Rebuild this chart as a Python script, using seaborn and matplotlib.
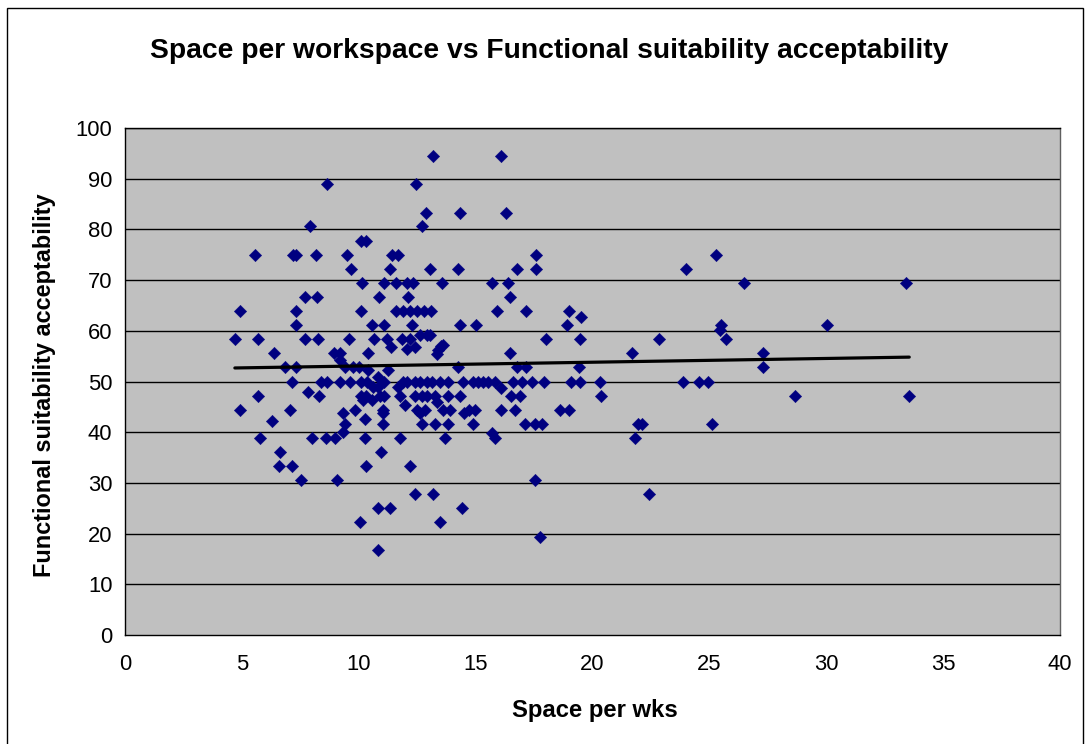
import matplotlib
matplotlib.use("Agg")
import matplotlib.pyplot as plt
import seaborn as sns
import pandas as pd
from matplotlib.patches import Rectangle

# Space per workstation (x) and functional suitability acceptability score (y)
space_per_wks = [
    13.16, 16.09,
    8.65, 12.45,
    12.88, 14.32, 16.3,
    7.9, 12.7,
    10.1, 10.3,
    5.55, 7.2, 7.3, 8.15, 9.5, 11.41, 11.7, 17.6, 25.3,
    9.67, 11.34, 13.03, 14.25, 16.76, 17.6, 24.0,
    10.12, 11.1, 11.58, 12.05, 12.33, 13.56, 15.7, 16.4, 26.5, 33.4,
    7.7, 8.23, 10.88, 12.12, 16.47,
    4.9, 7.3, 10.1, 11.6, 11.9, 12.2, 12.5, 12.8, 13.1, 15.9, 17.15, 19.0,
    19.5,
    7.3, 10.58, 11.1, 12.26, 14.33, 15.0, 18.9, 25.5, 30.05,
    25.45,
    12.6, 12.9, 13.05,
    4.7, 5.7, 7.7, 8.24, 9.6, 10.65, 11.2, 11.84, 12.19, 18.0, 19.45, 22.86, 25.7,
    11.4, 12.4, 13.5, 13.6,
    12.05, 13.4,
    6.39, 8.95, 9.2, 10.4, 13.33, 16.47, 21.7, 27.3,
    9.2,
    6.85, 7.3, 9.4, 9.77, 10.0, 14.26, 16.76, 17.15, 19.43, 27.3,
    10.4, 11.25,
    7.13, 8.4, 8.63, 9.2, 9.63, 10.1, 10.34, 11.06, 11.9, 12.05, 12.4, 12.6,
    12.9, 13.12, 13.48, 13.83, 14.47, 14.9, 15.11, 15.33, 15.54, 15.83, 16.6,
    16.97, 17.4, 17.93, 19.1, 19.47, 20.3, 23.86, 24.56, 24.94,
    10.84, 16.1, 11.7, 10.6, 10.84,
    5.7, 7.84, 8.29, 10.1, 10.3, 10.9, 11.1, 11.76, 12.4, 12.7, 12.9, 13.26,
    13.8, 14.33, 16.5, 16.9, 20.35, 28.66, 33.55,
    10.2, 10.55, 13.33,
    11.98,
    4.92, 7.06, 9.84, 11.05, 12.48, 12.83, 13.6, 13.9, 14.7, 14.97, 16.1,
    16.68, 18.6, 19.0,
    9.34, 11.05, 12.6, 14.5,
    10.27, 6.3,
    9.41, 11.05, 12.7, 13.26, 13.83, 14.9, 17.1, 17.54, 17.83, 21.96, 22.1, 25.1,
    9.34, 15.7,
    5.78, 7.99, 8.6, 8.98, 10.27, 11.76, 13.7, 15.83, 21.8,
    6.63, 10.95,
    6.6, 7.13, 10.3, 12.19,
    7.54, 9.06, 17.53,
    12.4, 13.18, 22.4,
    10.81, 11.34, 14.4,
    10.05, 13.47,
    17.75,
    10.81,
]

suitability = [
    94.4, 94.4,
    88.9, 88.9,
    83.3, 83.3, 83.3,
    80.6, 80.6,
    77.8, 77.8,
    75.0, 75.0, 75.0, 75.0, 75.0, 75.0, 75.0, 75.0, 75.0,
    72.2, 72.2, 72.2, 72.2, 72.2, 72.2, 72.2,
    69.4, 69.4, 69.4, 69.4, 69.4, 69.4, 69.4, 69.4, 69.4, 69.4,
    66.7, 66.7, 66.7, 66.7, 66.7,
    63.9, 63.9, 63.9, 63.9, 63.9, 63.9, 63.9, 63.9, 63.9, 63.9, 63.9, 63.9,
    62.7,
    61.1, 61.1, 61.1, 61.1, 61.1, 61.1, 61.1, 61.1, 61.1,
    60.2,
    59.2, 59.2, 59.2,
    58.3, 58.3, 58.3, 58.3, 58.3, 58.3, 58.3, 58.3, 58.3, 58.3, 58.3, 58.3, 58.3,
    56.9, 56.9, 57.0, 57.2,
    56.5, 56.3,
    55.6, 55.6, 55.6, 55.6, 55.4, 55.6, 55.6, 55.6,
    54.2,
    52.8, 52.8, 52.8, 52.8, 52.8, 52.8, 52.8, 52.8, 52.8, 52.8,
    52.3, 52.3,
    50.0, 50.0, 50.0, 50.0, 50.0, 50.0, 50.0, 50.0, 50.0, 50.0, 50.0, 50.0,
    50.0, 50.0, 50.0, 50.0, 50.0, 50.0, 50.0, 50.0, 50.0, 50.0, 50.0,
    50.0, 50.0, 50.0, 50.0, 50.0, 50.0, 50.0, 50.0, 50.0,
    50.9, 48.7, 48.9, 49.0, 49.0,
    47.2, 48.0, 47.2, 47.2, 47.2, 47.2, 47.2, 47.2, 47.2, 47.2, 47.2, 47.2,
    47.2, 47.2, 47.2, 47.2, 47.2, 47.2, 47.2,
    46.4, 46.4, 46.0,
    45.4,
    44.4, 44.4, 44.4, 44.4, 44.4, 44.4, 44.4, 44.4, 44.4, 44.4, 44.4,
    44.4, 44.4, 44.4,
    43.7, 43.7, 43.7, 43.7,
    42.7, 42.3,
    41.7, 41.7, 41.7, 41.7, 41.7, 41.7, 41.7, 41.7, 41.7, 41.7, 41.7, 41.7,
    40.1, 39.8,
    38.9, 38.9, 38.9, 38.9, 38.9, 38.9, 38.9, 38.9, 38.9,
    36.1, 36.1,
    33.3, 33.3, 33.3, 33.3,
    30.6, 30.6, 30.6,
    27.8, 27.8, 27.8,
    25.0, 25.0, 25.0,
    22.2, 22.2,
    19.4,
    16.7,
]

chart_title = "Space per workspace vs Functional suitability acceptability"
x_label = "Space per wks"
y_label = "Functional suitability acceptability"
x_ticks = [0, 5, 10, 15, 20, 25, 30, 35, 40]
y_ticks = [0, 10, 20, 30, 40, 50, 60, 70, 80, 90, 100]

sns.set_theme(style="white")
plt.rcParams["font.family"] = ["Liberation Sans", "DejaVu Sans"]

df = pd.DataFrame({"space": space_per_wks, "suitability": suitability})

W, H = 1085, 744
fig = plt.figure(figsize=(W / 100, H / 100), dpi=100)
fig.patch.set_facecolor("white")

# outer chart border (bottom edge runs past the canvas)
fig.add_artist(Rectangle((7 / W, -5 / H), (1083 - 7) / W, (744 + 5 - 8) / H,
                         transform=fig.transFigure, fill=False,
                         edgecolor="black", lw=1.0))

ax = fig.add_axes([125 / W, 1 - 635 / H, (1060 - 125) / W, (635 - 128) / H])
ax.set_facecolor("#C0C0C0")

for yv in y_ticks[1:]:
    ax.axhline(yv, color="black", lw=1.0, zorder=1)

sns.scatterplot(data=df, x="space", y="suitability", marker="D", s=40,
                color="#000080", edgecolor="#000080", linewidth=0.3,
                ax=ax, zorder=3, legend=False)
sns.regplot(data=df, x="space", y="suitability", scatter=False, ci=None,
            truncate=True, color="black", line_kws={"lw": 2.3, "zorder": 4},
            ax=ax)

ax.set_xlim(0, 40)
ax.set_ylim(0, 100)
ax.set_xticks(x_ticks)
ax.set_yticks(y_ticks)
ax.set_xticklabels([str(v) for v in x_ticks])
ax.set_yticklabels([str(v) for v in y_ticks])
ax.tick_params(axis="both", direction="out", length=4, width=1,
               color="black", labelsize=15.8, labelcolor="black", pad=5)
ax.tick_params(axis="x", pad=10)
ax.set_xlabel("")
ax.set_ylabel("")
for side in ["left", "bottom"]:
    ax.spines[side].set_color("black")
    ax.spines[side].set_linewidth(1.0)
ax.spines["right"].set_color("#606060")
ax.spines["right"].set_linewidth(1.0)
ax.spines["top"].set_color("black")
ax.spines["top"].set_linewidth(1.0)

fig.text(549 / W, 1 - 51 / H, chart_title, ha="center", va="center",
         fontsize=20.3, fontweight="bold", color="black")
fig.text(595 / W, 1 - 711 / H, x_label, ha="center", va="center",
         fontsize=17.2, fontweight="bold", color="black")
fig.text(45 / W, 1 - 385 / H, y_label, ha="center", va="center",
         rotation=90, fontsize=16.9, fontweight="bold", color="black")

fig.savefig("out.png", dpi=100)
